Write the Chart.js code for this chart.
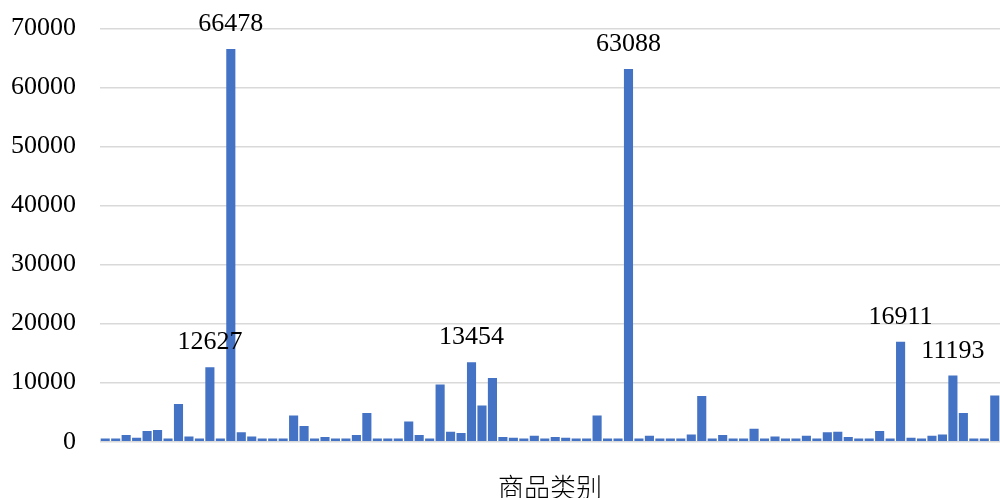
<!DOCTYPE html>
<html>
<head>
<meta charset="utf-8">
<title>商品类别</title>
<script src="https://cdn.jsdelivr.net/npm/chart.js@4/dist/chart.umd.min.js"></script>
<style>
  html, body { margin: 0; padding: 0; background: #ffffff; }
  #chart { display: block; }
</style>
</head>
<body>
<canvas id="chart" width="1000" height="498"></canvas>
<script>
// Sales per product category (86 categories)
const sales = [
  560, 560, 1130, 680, 1800, 1970, 560, 6380, 900, 560,
  12627, 560, 66478, 1580, 900, 560, 560, 560, 4450, 2650,
  560, 790, 560, 560, 1130, 4850, 560, 560, 560, 3440,
  1130, 560, 9700, 1690, 1470, 13454, 6150, 10770, 790, 680,
  560, 1020, 560, 790, 680, 560, 560, 4450, 560, 560,
  63088, 560, 1020, 560, 560, 560, 1240, 7730, 560, 1130,
  560, 560, 2200, 560, 900, 560, 560, 1020, 560, 1580,
  1690, 790, 560, 560, 1800, 560, 16911, 680, 560, 1020,
  1240, 11193, 4850, 560, 560, 7840
];
const categories = sales.map((_, i) => '类别' + (i + 1));

// Bars that carry a value label
const labeledBars = [10, 12, 35, 50, 76, 81];

// Value axis ticks
const yTicks = [0, 10000, 20000, 30000, 40000, 50000, 60000, 70000];

const axisTitle = '商品类别';

const valueLabels = {
  id: 'valueLabels',
  afterDatasetsDraw(chart) {
    const ctx = chart.ctx;
    const meta = chart.getDatasetMeta(0);
    ctx.save();
    ctx.font = '26px "Liberation Serif", "Times New Roman", serif';
    ctx.fillStyle = '#000000';
    ctx.textAlign = 'center';
    ctx.textBaseline = 'alphabetic';
    labeledBars.forEach(i => {
      const bar = meta.data[i];
      ctx.fillText(String(sales[i]), bar.x, bar.y - 18);
    });
    ctx.restore();
  }
};

new Chart(document.getElementById('chart'), {
  type: 'bar',
  data: {
    labels: categories,
    datasets: [{
      data: sales,
      backgroundColor: '#4472C4',
      borderWidth: 0,
      barPercentage: 0.87,
      categoryPercentage: 1.0
    }]
  },
  options: {
    responsive: false,
    animation: false,
    devicePixelRatio: 1,
    layout: { padding: { top: 28.3, left: 0, right: 0, bottom: 0 } },
    plugins: {
      legend: { display: false },
      tooltip: { enabled: false }
    },
    scales: {
      y: {
        min: yTicks[0],
        max: yTicks[yTicks.length - 1],
        afterBuildTicks(scale) {
          scale.ticks = yTicks.map(v => ({ value: v }));
        },
        afterFit(scale) {
          scale.width = 100;
          scale.paddingTop = 0;
          scale.paddingBottom = 0;
        },
        ticks: {
          padding: 24,
          color: '#000000',
          callback: v => String(v),
          font: { family: '"Liberation Serif", "Times New Roman", serif', size: 26 }
        },
        grid: { color: '#d9d9d9', lineWidth: 1.5, drawTicks: false },
        border: { display: false }
      },
      x: {
        afterFit(scale) { scale.height = 56.3; },
        ticks: { display: false },
        grid: { display: false, drawTicks: false },
        border: { display: false },
        title: {
          display: true,
          text: axisTitle,
          color: '#000000',
          padding: 0,
          font: { family: '"Noto Sans CJK SC", sans-serif', size: 26, weight: 300, lineHeight: '22px' }
        }
      }
    }
  },
  plugins: [valueLabels]
});
</script>
</body>
</html>
